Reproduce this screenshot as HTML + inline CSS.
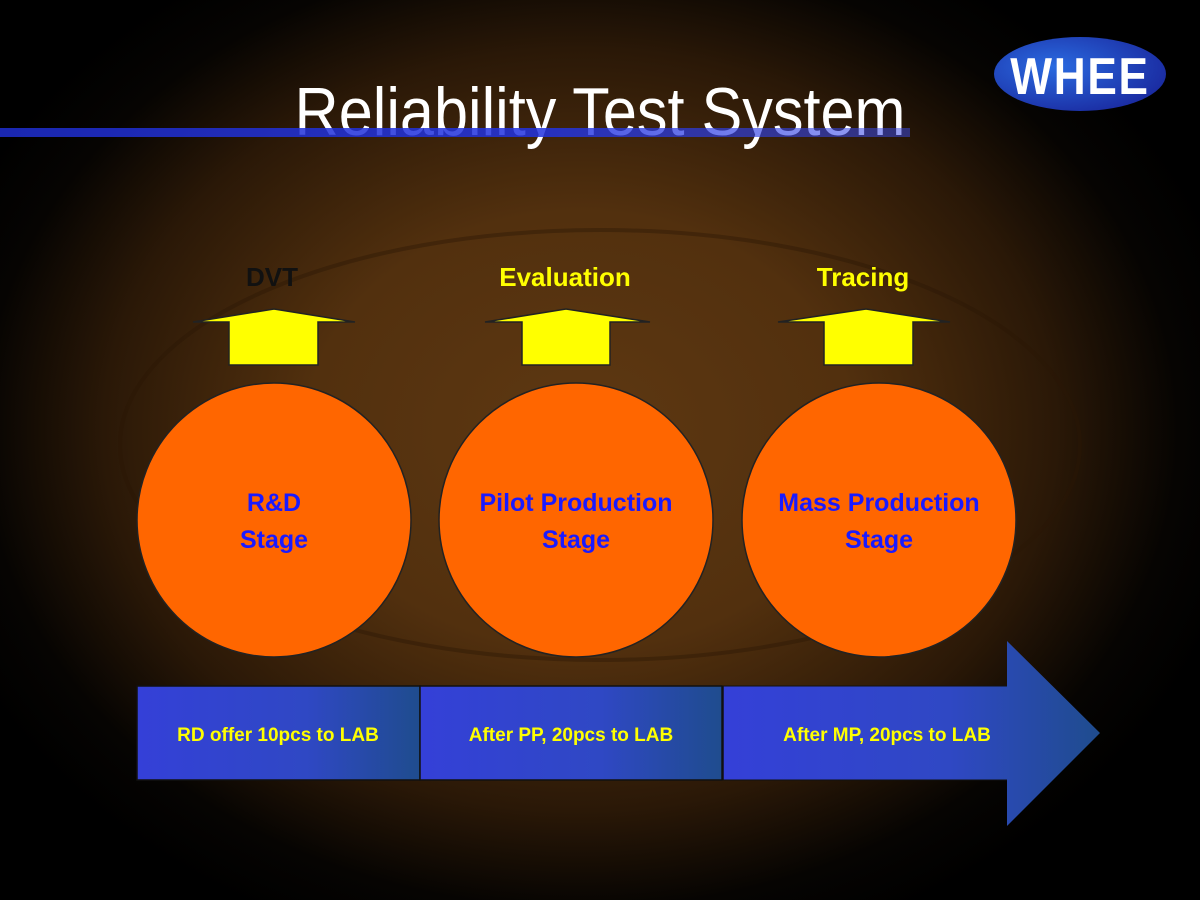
<!DOCTYPE html>
<html><head><meta charset="utf-8"><style>
html,body{margin:0;padding:0;}
body{width:1200px;height:900px;overflow:hidden;background:#000;}
</style></head><body>
<svg width="1200" height="900" xmlns="http://www.w3.org/2000/svg" style="display:block">
<defs>
<radialGradient id="bg" cx="580" cy="430" r="680" gradientUnits="userSpaceOnUse" gradientTransform="translate(580 430) scale(1 0.8) translate(-580 -430)">
<stop offset="0" stop-color="#5e3812"/>
<stop offset="0.4" stop-color="#52300e"/>
<stop offset="0.7" stop-color="#2a1807"/>
<stop offset="0.88" stop-color="#060402"/>
<stop offset="1" stop-color="#000"/>
</radialGradient>
<linearGradient id="bar" x1="0" x2="1" y1="0" y2="0">
<stop offset="0" stop-color="#3440d8"/>
<stop offset="0.6" stop-color="#2f48c4"/>
<stop offset="1" stop-color="#1f4c8e"/>
</linearGradient>
<linearGradient id="line" x1="0" x2="1">
<stop offset="0" stop-color="#1f2ed0"/>
<stop offset="0.6" stop-color="#2233e0"/>
<stop offset="1" stop-color="#3a4ae8" stop-opacity="0.6"/>
</linearGradient>
<radialGradient id="logo" cx="0.35" cy="0.4" r="0.7">
<stop offset="0" stop-color="#2a6ae0"/>
<stop offset="1" stop-color="#1a2aa0"/>
</radialGradient>
</defs>
<rect width="1200" height="900" fill="url(#bg)"/>
<ellipse cx="600" cy="445" rx="480" ry="215" fill="none" stroke="#2a1606" stroke-width="4" opacity="0.4"/>

<text x="600" y="135" text-anchor="middle" font-family="Liberation Sans, sans-serif" font-size="68" fill="#fff" transform="translate(600 0) scale(0.9 1) translate(-600 0)">Reliability Test System</text>
<rect x="0" y="128" width="910" height="9" fill="url(#line)" opacity="0.85"/>

<ellipse cx="1080" cy="74" rx="86" ry="37" fill="url(#logo)"/>
<text x="1080" y="94" text-anchor="middle" font-family="Liberation Sans, sans-serif" font-weight="bold" font-size="52" fill="#fff" letter-spacing="2" transform="translate(1080 0) scale(0.85 1) translate(-1080 0)">WHEE</text>

<g font-family="Liberation Sans, sans-serif" font-weight="bold" font-size="26" text-anchor="middle">
<text x="272" y="286" fill="#111">DVT</text>
<text x="565" y="286" fill="#ffff00">Evaluation</text>
<text x="863" y="286" fill="#ffff00">Tracing</text>
</g>

<g fill="#ffff00" stroke="#222" stroke-width="1.5">
<polygon points="193,322 274,309 355,322 318,322 318,365 229,365 229,322"/>
<polygon points="485,322 566,309 650,322 610,322 610,365 522,365 522,322"/>
<polygon points="778,322 866,309 950,322 913,322 913,365 824,365 824,322"/>
</g>

<g fill="#ff6600" stroke="#222" stroke-width="1.5">
<circle cx="274" cy="520" r="137"/>
<circle cx="576" cy="520" r="137"/>
<circle cx="879" cy="520" r="137"/>
</g>
<g font-family="Liberation Sans, sans-serif" font-weight="bold" font-size="25" fill="#1a1aff" text-anchor="middle">
<text x="274" y="511">R&amp;D</text><text x="274" y="548">Stage</text>
<text x="576" y="511">Pilot Production</text><text x="576" y="548">Stage</text>
<text x="879" y="511">Mass Production</text><text x="879" y="548">Stage</text>
</g>

<polygon points="723,686 1007,686 1007,641 1100,733 1007,826 1007,780 723,780" fill="url(#bar)"/>
<rect x="137" y="686" width="283" height="94" fill="url(#bar)" stroke="#111" stroke-width="1.5"/>
<rect x="420" y="686" width="302" height="94" fill="url(#bar)" stroke="#111" stroke-width="1.5"/>
<line x1="723" y1="686" x2="723" y2="780" stroke="#111" stroke-width="1.5"/>
<line x1="723" y1="686" x2="1007" y2="686" stroke="#111" stroke-width="1"/>
<line x1="723" y1="780" x2="1007" y2="780" stroke="#111" stroke-width="1"/>
<g font-family="Liberation Sans, sans-serif" font-weight="bold" font-size="19" fill="#ffff00" text-anchor="middle">
<text x="278" y="741">RD offer 10pcs to LAB</text>
<text x="571" y="741">After PP, 20pcs to LAB</text>
<text x="887" y="741">After MP, 20pcs to LAB</text>
</g>
</svg>
</body></html>
